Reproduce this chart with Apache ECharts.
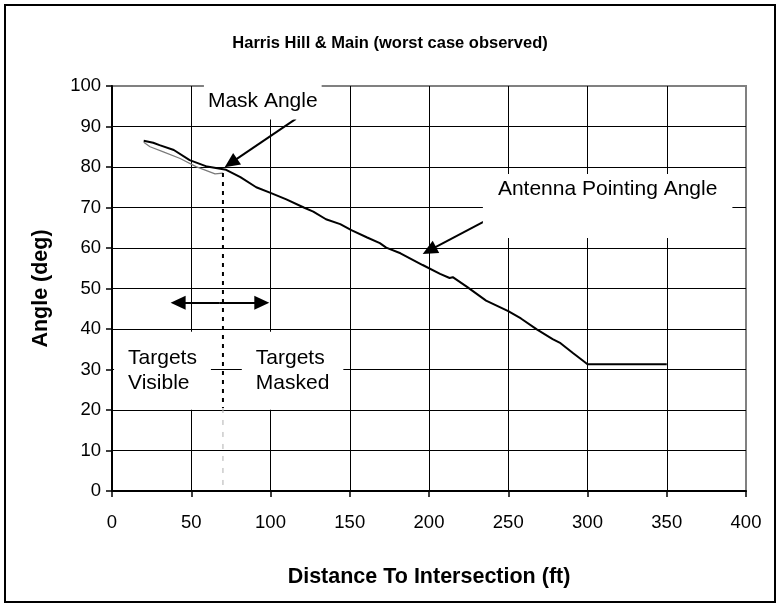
<!DOCTYPE html>
<html>
<head>
<meta charset="utf-8">
<script src="https://cdn.jsdelivr.net/npm/echarts@6/dist/echarts.min.js"></script>
<style>
  html, body { margin: 0; padding: 0; background: #fff; }
  #chart { width: 780px; height: 607px; }
</style>
</head>
<body>
<div id="chart"></div>
<script>
// Distance to intersection (ft) and antenna pointing angle (deg)
const pointingDist = [20, 26, 30, 39, 49, 60, 72, 81, 91, 100, 110, 121, 127, 135, 144, 151, 161, 169, 173, 182, 196, 207, 213, 215, 224, 236, 250, 258, 268, 278, 283, 291, 298, 300, 350];
const pointingAngle = [86.5, 86.0, 85.4, 84.2, 81.7, 80.1, 79.3, 77.5, 75.0, 73.6, 72.0, 70.0, 69.0, 67.1, 65.9, 64.4, 62.6, 61.2, 60.1, 58.7, 55.8, 53.6, 52.6, 52.8, 50.4, 47.0, 44.4, 42.6, 39.9, 37.5, 36.5, 34.0, 31.9, 31.3, 31.3];

// Mask angle over the visible stretch
const maskDist = [20, 24, 32, 43, 53, 65, 70];
const maskAngle = [86.1, 85.0, 83.8, 82.1, 80.1, 78.3, 78.5];

// Boundary between visible and masked targets
const boundaryDist = 70;
const boundaryTop = 78.5;
const boundaryMid = 20.5;

const xTicks = { min: 0, max: 400, step: 50 };
const yTicks = { min: 0, max: 100, step: 10 };

const titleText = 'Harris Hill & Main (worst case observed)';
const xName = 'Distance To Intersection (ft)';
const yName = 'Angle (deg)';

const FONT = '"Liberation Sans", Arial, sans-serif';

const chart = echarts.init(document.getElementById('chart'), null, { renderer: 'canvas' });

function pairs(xs, ys) { return xs.map((x, i) => [x, ys[i]]); }

const option = {
  animation: false,
  backgroundColor: '#fff',
  title: {
    text: titleText,
    left: 'center',
    top: 30,
    textStyle: { fontFamily: FONT, fontSize: 16.5, fontWeight: 'bold', color: '#000' }
  },
  grid: {
    left: 112, top: 86, width: 634, height: 405,
    show: true, borderColor: '#808080', borderWidth: 2, backgroundColor: 'transparent'
  },
  xAxis: {
    type: 'value', min: xTicks.min, max: xTicks.max, interval: xTicks.step,
    name: xName, nameLocation: 'middle', nameGap: 75,
    nameTextStyle: { fontFamily: FONT, fontSize: 21.5, fontWeight: 'bold', color: '#000' },
    axisLine: { show: true, onZero: false, lineStyle: { color: '#000', width: 2 } },
    axisTick: { show: true, inside: false, length: 6, lineStyle: { color: '#000', width: 1.5 } },
    axisLabel: { margin: 22, fontFamily: FONT, fontSize: 18.5, color: '#000' },
    splitLine: { show: true, showMaxLine: false, showMinLine: false, lineStyle: { color: '#000', width: 1 } }
  },
  yAxis: {
    type: 'value', min: yTicks.min, max: yTicks.max, interval: yTicks.step,
    name: yName, nameLocation: 'middle', nameGap: 60, nameRotate: 90,
    nameTextStyle: { fontFamily: FONT, fontSize: 21.5, fontWeight: 'bold', color: '#000' },
    axisLine: { show: true, onZero: false, lineStyle: { color: '#000', width: 2 } },
    axisTick: { show: true, inside: false, length: 6, lineStyle: { color: '#000', width: 1.5 } },
    axisLabel: { margin: 11, fontFamily: FONT, fontSize: 18.5, color: '#000' },
    splitLine: { show: true, showMaxLine: false, showMinLine: false, lineStyle: { color: '#000', width: 1 } }
  },
  series: [
    {
      name: 'Mask Angle', type: 'line', data: pairs(maskDist, maskAngle),
      showSymbol: false, smooth: false, z: 3,
      lineStyle: { color: '#7a7a7a', width: 1.2 }
    },
    {
      name: 'Antenna Pointing Angle', type: 'line', data: pairs(pointingDist, pointingAngle),
      showSymbol: false, smooth: false, z: 4,
      lineStyle: { color: '#000', width: 2 },
      markLine: {
        silent: true, animation: false,
        symbol: ['none', 'triangle'], symbolSize: [14, 15],
        label: { show: false },
        lineStyle: { color: '#000', width: 2, type: 'solid' },
        // arrow ends sit at the centre of each head, half a head short of the tip
        data: [
          [{ coord: [116, 91.9] }, { coord: [75, 81] }],
          [{ coord: [237, 67] }, { coord: [200.2, 59.4] }],
          [{ coord: [68, 46.5], symbol: 'none' }, { coord: [94.5, 46.5] }],
          [{ coord: [68, 46.5], symbol: 'none' }, { coord: [41.7, 46.5] }]
        ]
      }
    },
    {
      name: 'boundary', type: 'line', data: [[boundaryDist, boundaryTop], [boundaryDist, boundaryMid]],
      showSymbol: false, z: 3,
      lineStyle: { color: '#000', width: 2, type: [4, 5] }
    },
    {
      name: 'boundaryLow', type: 'line', data: [[boundaryDist, boundaryMid], [boundaryDist, 0]],
      showSymbol: false, z: 3,
      lineStyle: { color: '#b0b0b0', width: 1, type: [5, 7] }
    }
  ]
};

chart.setOption(option);

// Callout labels: box corner anchored in data space, padding [top, right, bottom, left]
const callouts = [
  { text: 'Mask Angle', at: [58, 96.3], pad: [6, 4, 6, 4], valign: 'middle' },
  { text: 'Antenna Pointing Angle', at: [234, 78.3], pad: [3, 15, 36, 15], valign: 'top' },
  { text: 'Targets\nVisible', at: [1.3, 39.3], pad: [14, 14, 14, 14], valign: 'top' },
  { text: 'Targets\nMasked', at: [81.9, 39.3], pad: [14, 14, 14, 14], valign: 'top' }
];

const graphics = [
  {
    type: 'rect', silent: true, z: 100,
    shape: { x: 5, y: 5, width: 770, height: 597 },
    style: { fill: 'none', stroke: '#000', lineWidth: 2 }
  }
];
callouts.forEach(c => {
  const p = chart.convertToPixel({ gridIndex: 0 }, c.at);
  graphics.push({
    type: 'text', silent: true, z: 50,
    x: p[0], y: p[1],
    style: {
      text: c.text, fontFamily: FONT, fontSize: 21, fill: '#000',
      align: 'left', verticalAlign: c.valign, lineHeight: 25,
      backgroundColor: '#fff', padding: c.pad
    }
  });
});
chart.setOption({ graphic: graphics });
</script>
</body>
</html>
